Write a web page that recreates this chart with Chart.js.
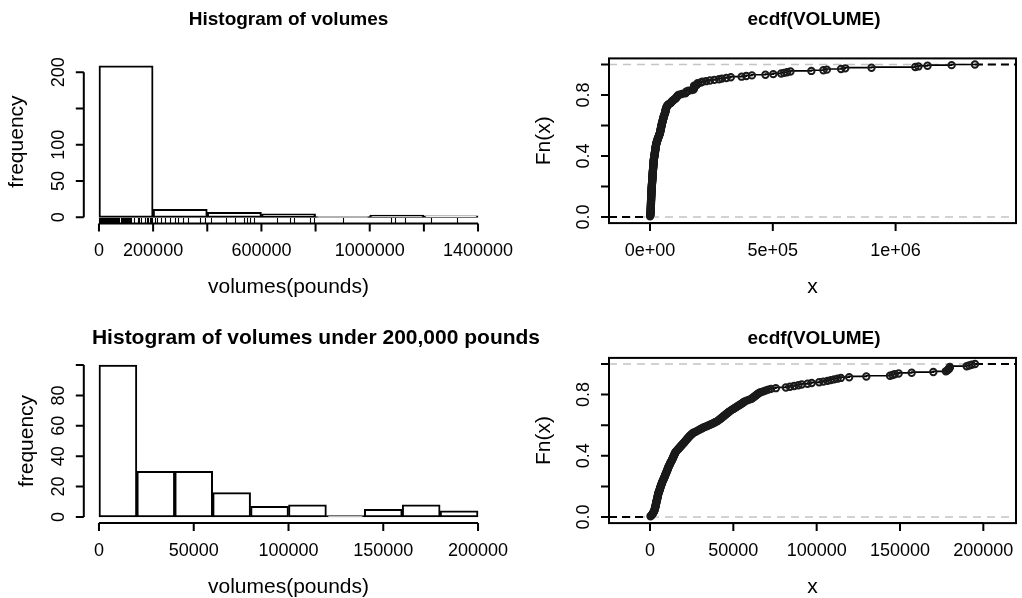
<!DOCTYPE html>
<html>
<head>
<meta charset="utf-8">
<script src="https://cdn.jsdelivr.net/npm/chart.js@4.4.1/dist/chart.umd.min.js"></script>
<style>
  html, body { margin: 0; padding: 0; background: #fff; }
  #wrap { position: relative; width: 1022px; height: 598px; }
  #wrap canvas { position: absolute; left: 0; top: 0; }
</style>
</head>
<body>
<div id="wrap">
  <canvas id="histAll" width="1022" height="598"></canvas>
  <canvas id="ecdfAll" width="1022" height="598"></canvas>
  <canvas id="histSmall" width="1022" height="598"></canvas>
  <canvas id="ecdfSmall" width="1022" height="598"></canvas>
</div>
<script>
// Histogram bins and counts
const breaksAll = [0, 200000, 400000, 600000, 800000, 1000000, 1200000, 1400000];
const countsAll = [209, 11, 7, 5, 1, 3, 2];
const breaksSmall = [0, 20000, 40000, 60000, 80000, 100000, 120000, 140000, 160000, 180000, 200000];
const countsSmall = [100, 30, 30, 16, 7, 8, 1, 5, 8, 4];

const volumesSmall = [
    300, 800, 1200, 1500, 1800, 2000, 2300,
    2450, 2600, 2750, 2900, 3050, 3100, 3250, 3300, 3480, 3520, 3650, 3700, 3850, 3900,
    4000, 4120, 4200, 4350, 4400, 4500, 4640, 4700, 4850, 4900, 5000, 5150, 5300,
    5500, 5600, 5800, 5900, 6000, 6200, 6300, 6500, 6600, 6800, 7000, 7100, 7300, 7400, 7600, 7800, 8000, 8200,
    8400, 8600, 8800, 9000, 9100, 9300, 9500, 9700, 9900, 10000, 10200, 10400, 10500, 10700, 10900, 11000, 11200,
    11500, 11700, 11900, 12100, 12300, 12500, 12800, 13000, 13200, 13400, 13600, 13800, 14000, 14200, 14400,
    14600, 14800, 15000, 15200,
    15500, 15900, 16200, 16600, 17000, 17400, 17800, 18200, 18600, 19000, 19400, 19800,
    20300, 20600, 21000, 21300, 21700, 22000, 22400, 22800, 23200, 23600, 24000, 24500, 25000, 25500, 26000,
    27000, 27800, 28600, 29400, 30200, 31000, 31800, 32800, 34000, 35000, 36000, 37000, 38000, 38800, 39600,
    40500, 41000, 41600, 42100, 42700, 43200, 43800, 44300, 44900, 45400, 46000, 46500, 47100, 47600, 48200, 48800,
    49500, 50200, 50900, 51600, 52300, 53000, 53700, 54400, 55100, 55800, 56400, 56900, 58000, 59200,
    60500, 61100, 61700, 62300, 62900, 63500, 64000, 64600, 65200, 66000, 67200, 68400, 69600, 71000, 72600, 75500,
    81500, 84000, 86500, 89000, 91000, 94500, 97000,
    101500, 104000, 106500, 108500, 110500, 112500, 114500, 119500,
    129800,
    144000, 145500, 146800, 149200, 157000,
    170000, 177500, 178200, 178800, 179200, 179500, 179800, 179900,
    190000, 191500, 193000, 195000
];
const volumesLarge = [
    207000, 213000, 228000, 244000, 262000, 281000, 293000, 311000, 329000, 373000, 392000,
    415000, 470000, 502000, 534000, 546000, 558000, 572000,
    657000, 706000, 720000, 778000, 795000,
    902000,
    1080000, 1093000, 1130000,
    1228000, 1323000
];

// Tick positions and labels
const histAllXTicks = [0, 200000, 400000, 600000, 800000, 1000000, 1200000, 1400000];
const histAllXLabels = ['0', '200000', '', '600000', '', '1000000', '', '1400000'];
const histAllYTicks = [0, 50, 100, 150, 200];
const histAllYLabels = ['0', '50', '100', '', '200'];
const histSmallXTicks = [0, 50000, 100000, 150000, 200000];
const histSmallXLabels = ['0', '50000', '100000', '150000', '200000'];
const histSmallYTicks = [0, 20, 40, 60, 80, 100];
const histSmallYLabels = ['0', '20', '40', '60', '80', ''];
const ecdfYTicks = [0, 0.2, 0.4, 0.6, 0.8, 1.0];
const ecdfYLabels = ['0.0', '', '0.4', '', '0.8', ''];
const ecdfAllXTicks = [0, 500000, 1000000];
const ecdfAllXLabels = ['0e+00', '5e+05', '1e+06'];
const ecdfSmallXTicks = [0, 50000, 100000, 150000, 200000];
const ecdfSmallXLabels = ['0', '50000', '100000', '150000', '200000'];

const W = 1022, H = 598;
const FONT = '"Liberation Sans", Arial, Helvetica, sans-serif';
const LW = 2;

// R-like axis limits (usr) for each panel
const lim = {
    histAll:   { x: [-56000, 1456000], y: [-8.36, 217.36] },
    histSmall: { x: [-8000, 208000],   y: [-4, 104] },
    ecdfAll:   { x: [-166900, 1490200], y: [-0.04, 1.04] },
    ecdfSmall: { x: [-24600, 219600],  y: [-0.04, 1.04] }
};

// Panel layout on the page + axis decorations
const panels = {
    histAll: {
        area: { left: 83.8, right: 493.2, top: 59.7, bottom: 223.4 },
        title: 'Histogram of volumes', titleY: 20, titleX: 288.5, titleSize: 19,
        xTitle: 'volumes(pounds)', yTitle: 'frequency', yTitleX: 17,
        xTicks: histAllXTicks, xLabels: histAllXLabels,
        yTicks: histAllYTicks, yLabels: histAllYLabels,
        rug: volumesSmall.concat(volumesLarge)
    },
    ecdfAll: {
        area: { left: 609, right: 1019, top: 58.4, bottom: 223.1 },
        title: 'ecdf(VOLUME)', titleY: 20, titleX: 814, titleSize: 19, box: true,
        xTitle: 'x', yTitle: 'Fn(x)', yTitleX: 544,
        xTicks: ecdfAllXTicks, xLabels: ecdfAllXLabels,
        yTicks: ecdfYTicks, yLabels: ecdfYLabels
    },
    histSmall: {
        area: { left: 83.8, right: 493.2, top: 358.9, bottom: 523.1 },
        title: 'Histogram of volumes under 200,000 pounds', titleY: 338, titleX: 316, titleSize: 21,
        xTitle: 'volumes(pounds)', yTitle: 'frequency', yTitleX: 27,
        xTicks: histSmallXTicks, xLabels: histSmallXLabels,
        yTicks: histSmallYTicks, yLabels: histSmallYLabels
    },
    ecdfSmall: {
        area: { left: 609, right: 1019, top: 357.9, bottom: 523.1 },
        title: 'ecdf(VOLUME)', titleY: 339, titleX: 814, titleSize: 19, box: true,
        xTitle: 'x', yTitle: 'Fn(x)', yTitleX: 544,
        xTicks: ecdfSmallXTicks, xLabels: ecdfSmallXLabels,
        yTicks: ecdfYTicks, yLabels: ecdfYLabels
    }
};

// draws R style axes, box, titles and rug
const rAxes = {
    id: 'rAxes',
    afterDatasetsDraw(chart) {
        const p = panels[chart.canvas.id];
        const ctx = chart.ctx, a = chart.chartArea;
        const xs = chart.scales.x, ys = chart.scales.y;
        const tick = 8;
        ctx.save();
        ctx.strokeStyle = '#000';
        ctx.fillStyle = '#000';

        if (p.rug) {
            ctx.lineWidth = 1.1;
            ctx.beginPath();
            p.rug.forEach(v => {
                const px = Math.round(xs.getPixelForValue(v)) + 0.5;
                ctx.moveTo(px, a.bottom - 5.5);
                ctx.lineTo(px, a.bottom);
            });
            ctx.stroke();
        }

        ctx.lineWidth = LW;
        if (p.box) {
            ctx.strokeRect(a.left, a.top, a.right - a.left, a.bottom - a.top);
        }

        // x axis
        const x0 = xs.getPixelForValue(p.xTicks[0]);
        const x1 = xs.getPixelForValue(p.xTicks[p.xTicks.length - 1]);
        ctx.beginPath();
        ctx.moveTo(x0, a.bottom);
        ctx.lineTo(x1, a.bottom);
        p.xTicks.forEach(v => {
            const px = xs.getPixelForValue(v);
            ctx.moveTo(px, a.bottom);
            ctx.lineTo(px, a.bottom + tick);
        });
        // y axis
        const y0 = ys.getPixelForValue(p.yTicks[0]);
        const y1 = ys.getPixelForValue(p.yTicks[p.yTicks.length - 1]);
        ctx.moveTo(a.left, y0);
        ctx.lineTo(a.left, y1);
        p.yTicks.forEach(v => {
            const py = ys.getPixelForValue(v);
            ctx.moveTo(a.left, py);
            ctx.lineTo(a.left - tick, py);
        });
        ctx.stroke();

        ctx.font = '18px ' + FONT;
        ctx.textAlign = 'center';
        ctx.textBaseline = 'middle';
        p.xTicks.forEach((v, i) => {
            if (p.xLabels[i]) ctx.fillText(p.xLabels[i], xs.getPixelForValue(v), a.bottom + 28);
        });
        p.yTicks.forEach((v, i) => {
            if (!p.yLabels[i]) return;
            ctx.save();
            ctx.translate(a.left - 25, ys.getPixelForValue(v));
            ctx.rotate(-Math.PI / 2);
            ctx.fillText(p.yLabels[i], 0, 0);
            ctx.restore();
        });

        ctx.font = '21px ' + FONT;
        ctx.fillText(p.xTitle, (a.left + a.right) / 2, a.bottom + 64);
        ctx.save();
        ctx.translate(p.yTitleX, (a.top + a.bottom) / 2);
        ctx.rotate(-Math.PI / 2);
        ctx.fillText(p.yTitle, 0, 0);
        ctx.restore();

        ctx.font = 'bold ' + p.titleSize + 'px ' + FONT;
        ctx.fillText(p.title, p.titleX, p.titleY);
        ctx.restore();
    }
};

function baseOptions(id) {
    const a = panels[id].area;
    return {
        responsive: false,
        animation: false,
        events: [],
        layout: { padding: { left: a.left, top: a.top, right: W - a.right, bottom: H - a.bottom } },
        plugins: { legend: { display: false }, tooltip: { enabled: false } },
        scales: {
            x: { type: 'linear', display: false, offset: false, min: lim[id].x[0], max: lim[id].x[1] },
            y: { type: 'linear', display: false, min: lim[id].y[0], max: lim[id].y[1] }
        }
    };
}

function makeHist(id, breaks, counts) {
    const bars = counts.map((c, i) => ({ x: (breaks[i] + breaks[i + 1]) / 2, y: c }));
    new Chart(document.getElementById(id), {
        type: 'bar',
        data: {
            datasets: [{
                data: bars,
                backgroundColor: '#fff',
                borderColor: '#000',
                borderWidth: LW,
                borderSkipped: false,
                barPercentage: 1,
                categoryPercentage: 1,
                grouped: false
            }]
        },
        options: baseOptions(id),
        plugins: [rAxes]
    });
}

function makeEcdf(id, values) {
    const sorted = values.slice().sort((a, b) => a - b);
    const n = sorted.length;
    const pts = sorted.map((v, i) => ({ x: v, y: (i + 1) / n }));
    const xl = lim[id].x;
    new Chart(document.getElementById(id), {
        type: 'scatter',
        data: {
            datasets: [
                {
                    data: pts,
                    showLine: true,
                    stepped: 'after',
                    borderColor: '#000',
                    borderWidth: 1.7,
                    pointRadius: 3.2,
                    pointBorderWidth: 2,
                    pointBorderColor: '#1a1a1a',
                    pointBackgroundColor: 'rgba(0,0,0,0)'
                },
                {
                    data: [{ x: xl[0], y: 0 }, { x: sorted[0], y: 0 }],
                    showLine: true, pointRadius: 0,
                    borderColor: '#000', borderWidth: LW, borderDash: [8, 5]
                },
                {
                    data: [{ x: sorted[n - 1], y: 1 }, { x: xl[1], y: 1 }],
                    showLine: true, pointRadius: 0,
                    borderColor: '#000', borderWidth: LW, borderDash: [8, 5]
                },
                {
                    data: [{ x: xl[0], y: 0 }, { x: xl[1], y: 0 }],
                    showLine: true, pointRadius: 0,
                    borderColor: '#c4c4c4', borderWidth: 1.5, borderDash: [8, 6]
                },
                {
                    data: [{ x: xl[0], y: 1 }, { x: xl[1], y: 1 }],
                    showLine: true, pointRadius: 0,
                    borderColor: '#c4c4c4', borderWidth: 1.5, borderDash: [8, 6]
                }
            ]
        },
        options: baseOptions(id),
        plugins: [rAxes]
    });
}

makeHist('histAll', breaksAll, countsAll);
makeHist('histSmall', breaksSmall, countsSmall);
makeEcdf('ecdfAll', volumesSmall.concat(volumesLarge));
makeEcdf('ecdfSmall', volumesSmall);
</script>
</body>
</html>
